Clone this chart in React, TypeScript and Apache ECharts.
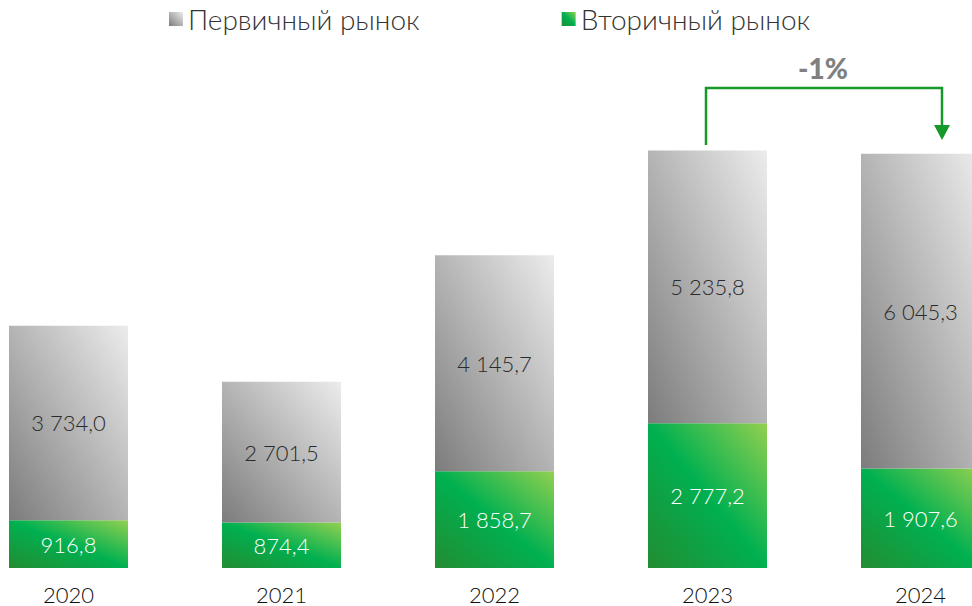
import React, { useEffect, useRef } from "react";
import * as echarts from "echarts";

const years = ["2020", "2021", "2022", "2023", "2024"];
const primary = [3734.0, 2701.5, 4145.7, 5235.8, 6045.3];
const secondary = [916.8, 874.4, 1858.7, 2777.2, 1907.6];
const seriesNames = ["Первичный рынок", "Вторичный рынок"];
const changeLabel = "-1%";

function fmt(v: number): string {
  const [i, d] = v.toFixed(1).split(".");
  const withSp = i.replace(/\B(?=(\d{3})+(?!\d))/g, " ");
  return withSp + "," + d;
}

const grayGrad = new echarts.graphic.LinearGradient(0, 1, 1, 0, [
  { offset: 0, color: "#7c7c7c" },
  { offset: 1, color: "#ececec" },
]);
const greenGrad = new echarts.graphic.LinearGradient(0, 1, 1, 0, [
  { offset: 0, color: "#238c32" },
  { offset: 0.5, color: "#00b050" },
  { offset: 1, color: "#92d050" },
]);

const SHIFT = 38;

export default function App() {
  const ref = useRef<HTMLDivElement>(null);
  useEffect(() => {
    document.body.style.margin = "0";
    const chart = echarts.init(ref.current!, undefined, { renderer: "svg" });
    const font = "'Lato Light', Lato, 'Noto Sans', sans-serif";
    chart.setOption({
      animation: false,
      legend: {
        top: 0,
        left: 164 + SHIFT,
        itemGap: 142,
        itemWidth: 14,
        itemHeight: 14,
        icon: "rect",
        data: seriesNames,
        textStyle: { fontSize: 28, color: "#333", fontFamily: font, fontWeight: 300 },
      },
      grid: { left: 0, right: 0, top: 47, bottom: 38 },
      xAxis: {
        type: "category",
        data: years,
        axisLine: { show: false },
        axisTick: { show: false },
        axisLabel: { fontSize: 22, color: "#111", margin: 15, fontFamily: font, fontWeight: 300 },
      },
      yAxis: { type: "value", min: 0, max: 10000, show: false, splitLine: { show: false } },
      series: [
        {
          name: seriesNames[1],
          type: "bar",
          stack: "a",
          barWidth: 119,
          data: secondary,
          itemStyle: { color: greenGrad },
          label: {
            show: true,
            position: "inside",
            color: "#fff",
            fontSize: 22,
            fontFamily: font,
            fontWeight: 300,
            formatter: (p: any) => fmt(p.value),
          },
        },
        {
          name: seriesNames[0],
          type: "bar",
          stack: "a",
          barWidth: 119,
          data: primary,
          itemStyle: { color: grayGrad },
          label: {
            show: true,
            position: "inside",
            color: "#2a2a2a",
            fontSize: 22,
            fontFamily: font,
            fontWeight: 300,
            formatter: (p: any) => fmt(p.value),
          },
        },
      ],
      graphic: [
        {
          type: "polyline",
          shape: { points: [[706 + SHIFT, 145], [706 + SHIFT, 88], [942 + SHIFT, 88], [942 + SHIFT, 126]] },
          style: { stroke: "#17982b", lineWidth: 2.5, fill: "none" },
        },
        {
          type: "polygon",
          shape: { points: [[934 + SHIFT, 125], [950 + SHIFT, 125], [942 + SHIFT, 140]] },
          style: { fill: "#17982b" },
        },
        {
          type: "text",
          x: 823 + SHIFT,
          y: 68,
          style: {
            text: changeLabel,
            fontSize: 28,
            fontWeight: 900,
            fill: "#808080",
            fontFamily: "Lato, sans-serif",
            align: "center",
            verticalAlign: "middle",
          },
        },
      ],
    });
    return () => chart.dispose();
  }, []);
  return (
    <div style={{ width: 972, height: 606, overflow: "hidden", position: "relative" }}>
      <div ref={ref} style={{ position: "absolute", left: -SHIFT, top: 0, width: 1065, height: 606 }} />
    </div>
  );
}
